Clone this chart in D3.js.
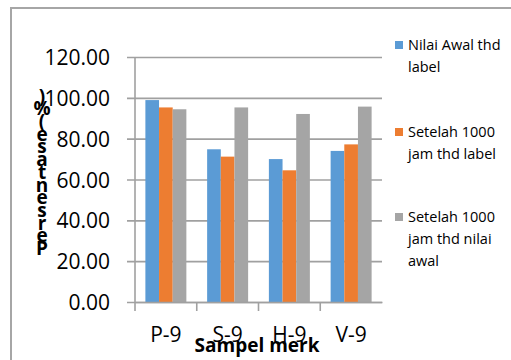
<!DOCTYPE html>
<html>
<head>
<meta charset="utf-8">
<script src="https://cdn.jsdelivr.net/npm/d3@7"></script>
<style>
  html, body { margin: 0; padding: 0; background: #fff; }
  svg { display: block; font-family: "Open Sans", "Liberation Sans", sans-serif; }
</style>
</head>
<body>
<svg id="chart" width="511" height="360"></svg>
<script>
// Brand samples and the three measured series (percent)
const categories = ["P-9", "S-9", "H-9", "V-9"];
const seriesNames = ["Nilai Awal thd label", "Setelah 1000 jam thd label", "Setelah 1000 jam thd nilai awal"];
const legendLines = [["Nilai Awal thd", "label"], ["Setelah 1000", "jam thd label"], ["Setelah 1000", "jam thd nilai", "awal"]];
const nilaiAwal = [98.9, 74.8, 70.0, 74.0];
const setelahLabel = [95.3, 71.2, 64.5, 77.2];
const setelahAwal = [94.4, 95.3, 92.1, 95.7];
const yTicks = [0, 20, 40, 60, 80, 100, 120];
const colors = ["#5b9bd5", "#ed7d31", "#a5a5a5"];
const yTitle = "Persentase (%)";
const xTitle = "Sampel merk";

const series = [nilaiAwal, setelahLabel, setelahAwal];
const FONT = "'Open Sans', 'Liberation Sans', sans-serif";

const svg = d3.select("#chart");

// outer chart frame
svg.append("rect")
  .attr("x", 11).attr("y", 8)
  .attr("width", 620).attr("height", 420)
  .attr("fill", "none").attr("stroke", "#a6a6a6").attr("stroke-width", 2);

const plot = { left: 135, right: 382, top: 57, bottom: 302 };

const x = d3.scaleBand().domain(categories).range([plot.left, plot.right]).paddingInner(0).paddingOuter(0);
const y = d3.scaleLinear().domain([0, 120]).range([plot.bottom, plot.top]);
const inner = d3.scaleBand().domain(d3.range(series.length)).range([0, x.bandwidth()]).paddingOuter(0.76).paddingInner(0);

// horizontal gridlines with tick stubs to the left
const yAxis = d3.axisLeft(y).tickValues(yTicks).tickSize(-(plot.right - plot.left)).tickFormat(d3.format(".2f")).tickPadding(25);
const gy = svg.append("g").attr("transform", `translate(${plot.left},0)`).call(yAxis);
gy.select(".domain").remove();
gy.selectAll(".tick line").attr("x1", -8).attr("stroke", "#a0a0a0").attr("stroke-width", 1.6);
gy.selectAll(".tick text")
  .attr("font-size", 21).attr("font-family", FONT).attr("fill", "#000")
  .attr("dy", "0.36em");

// vertical axis line
svg.append("line")
  .attr("x1", plot.left).attr("x2", plot.left)
  .attr("y1", plot.top).attr("y2", plot.bottom)
  .attr("stroke", "#a0a0a0").attr("stroke-width", 1.6);

// bars
const groups = svg.append("g").selectAll("g")
  .data(categories).join("g")
  .attr("transform", d => `translate(${x(d)},0)`);

groups.selectAll("rect")
  .data((d, i) => series.map((s, k) => ({ k, v: s[i] })))
  .join("rect")
  .attr("x", d => inner(d.k))
  .attr("width", inner.bandwidth())
  .attr("y", d => y(d.v))
  .attr("height", d => y(0) - y(d.v))
  .attr("fill", d => colors[d.k]);

// category axis
const xAxis = d3.axisBottom(x).tickSize(0).tickPadding(25);
const gx = svg.append("g").attr("transform", `translate(0,${plot.bottom})`).call(xAxis);
gx.select(".domain").attr("stroke", "#a0a0a0").attr("stroke-width", 1.6);
gx.selectAll(".tick text").attr("font-size", 21).attr("font-family", FONT).attr("fill", "#000");

// category boundary ticks
const bounds = categories.map(c => x(c));
svg.append("g").selectAll("line").data(bounds).join("line")
  .attr("x1", d => d).attr("x2", d => d)
  .attr("y1", plot.bottom).attr("y2", plot.bottom + 9)
  .attr("stroke", "#a0a0a0").attr("stroke-width", 1.6);

// x axis title
svg.append("text")
  .attr("x", 257).attr("y", 352)
  .attr("text-anchor", "middle")
  .attr("font-size", 19).attr("font-weight", "bold")
  .attr("font-family", FONT)
  .text(xTitle);

// y axis title: upright characters stacked from bottom to top
const chars = Array.from(yTitle).filter(c => c !== " ");
svg.append("g").selectAll("text").data(chars).join("text")
  .attr("x", 42)
  .attr("y", (d, i) => 255 - i * 12.7)
  .attr("text-anchor", "middle")
  .attr("font-size", 19).attr("font-weight", "bold")
  .attr("font-family", FONT)
  .text(d => d);

// legend
const legendTop = [50, 137, 222];
const lg = svg.append("g").selectAll("g").data(seriesNames).join("g");
lg.append("rect")
  .attr("x", 395).attr("y", (d, i) => legendTop[i] - 9)
  .attr("width", 8).attr("height", 8)
  .attr("fill", (d, i) => colors[i]);
lg.each(function (d, i) {
  d3.select(this).selectAll("text").data(legendLines[i]).join("text")
    .attr("x", 408)
    .attr("y", (t, j) => legendTop[i] + j * 22)
    .attr("font-size", 14.5)
    .attr("font-family", FONT)
    .text(t => t);
});
</script>
</body>
</html>
